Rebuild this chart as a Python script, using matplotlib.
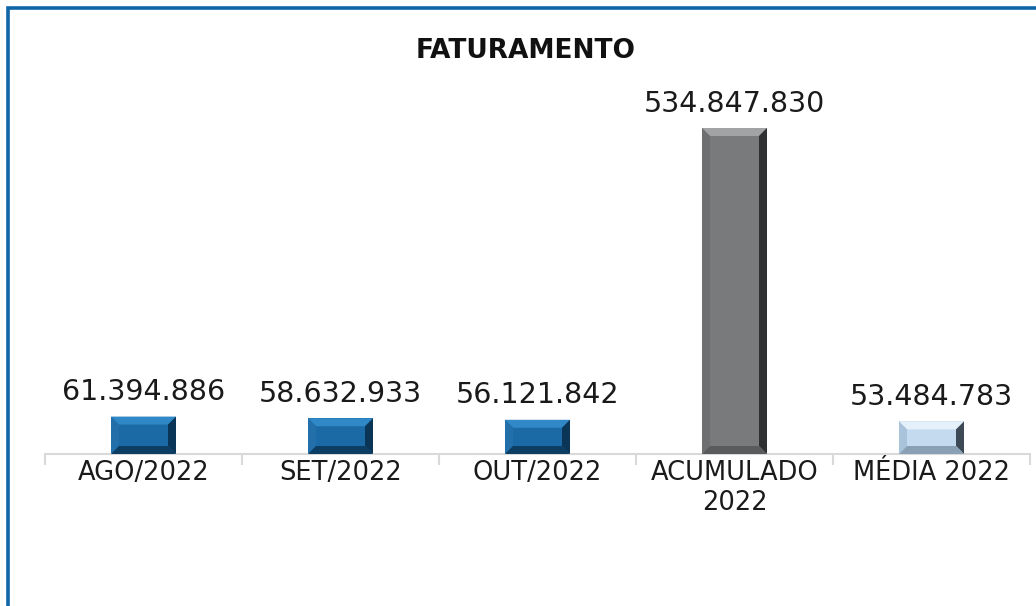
import matplotlib
matplotlib.use("Agg")
import matplotlib.pyplot as plt
from matplotlib.patches import Polygon, Rectangle
import numpy as np

categories = ["AGO/2022", "SET/2022", "OUT/2022", "ACUMULADO\n2022", "MÉDIA 2022"]
values = [61394886, 58632933, 56121842, 534847830, 53484783]
labels = ["61.394.886", "58.632.933", "56.121.842", "534.847.830", "53.484.783"]
title = "FATURAMENTO"

# face, top bevel, left bevel, right bevel, bottom bevel
palettes = [
    ("#1b6aa6", "#3088c6", "#226fa9", "#0b3556", "#0c3d63"),
    ("#1b6aa6", "#3088c6", "#226fa9", "#0b3556", "#0c3d63"),
    ("#1b6aa6", "#3088c6", "#226fa9", "#0b3556", "#0c3d63"),
    ("#797a7c", "#a2a3a5", "#6e6f71", "#2f3032", "#5a5b5d"),
    ("#c4daee", "#e4f0fa", "#a9c3da", "#3d4a55", "#8aa1b5"),
]

W, H, DPI = 1036, 606, 100
fig = plt.figure(figsize=(W / DPI, H / DPI), dpi=DPI)
fig.patch.set_facecolor("white")

left, right = 45, 1030
bottom_px, top_px = 454, 100
ax = fig.add_axes([left / W, (H - bottom_px) / H, (right - left) / W, (bottom_px - top_px) / H])
ax.set_xlim(-0.5, len(categories) - 0.5)
ymax = values[3] * (bottom_px - top_px) / (bottom_px - 128)
ax.set_ylim(0, ymax)

x = np.arange(len(categories))
bw = 0.33
bars = ax.bar(x, values, width=bw, color=[p[0] for p in palettes], zorder=2)

px_x = (right - left) / len(categories)
px_y = (bottom_px - top_px) / ymax
b = 8.0
for bar, pal in zip(bars, palettes):
    x0 = bar.get_x(); x1 = x0 + bar.get_width()
    y0 = 0; y1 = bar.get_height()
    dx = b / px_x; dy = b / px_y
    face, topc, leftc, rightc, botc = pal
    ax.add_patch(Polygon([(x0, y1), (x1, y1), (x1 - dx, y1 - dy), (x0 + dx, y1 - dy)], closed=True, color=topc, lw=0, zorder=3))
    ax.add_patch(Polygon([(x0, y0), (x0 + dx, y0 + dy), (x0 + dx, y1 - dy), (x0, y1)], closed=True, color=leftc, lw=0, zorder=3))
    ax.add_patch(Polygon([(x1, y0), (x1, y1), (x1 - dx, y1 - dy), (x1 - dx, y0 + dy)], closed=True, color=rightc, lw=0, zorder=3))
    ax.add_patch(Polygon([(x0, y0), (x1, y0), (x1 - dx, y0 + dy), (x0 + dx, y0 + dy)], closed=True, color=botc, lw=0, zorder=3))

for xi, v, lab in zip(x, values, labels):
    ax.annotate(lab, (xi, v), xytext=(0, 7.5), textcoords="offset points",
                ha="center", va="bottom", fontsize=20.5, color="#1a1a1a", family="DejaVu Sans")

for s in ["top", "right", "left"]:
    ax.spines[s].set_visible(False)
ax.spines["bottom"].set_color("#d9d9d9")
ax.spines["bottom"].set_linewidth(1.5)
ax.set_yticks([])
ax.set_xticks(x)
ax.set_xticklabels(categories, fontsize=18.5, color="#1a1a1a", linespacing=1.2)
ax.tick_params(axis="x", which="major", length=0, pad=4)
ax.set_xticks(np.arange(-0.5, len(categories)), minor=True)
ax.tick_params(axis="x", which="minor", length=8, width=1.5, color="#d9d9d9")
ax.patch.set_alpha(0)

fig.text(526 / W, 1 - 51 / H, title, ha="center", va="center", fontsize=19,
         fontweight="bold", color="#111111")

fig.patches.append(Rectangle((7.5 / W, -0.1), 1.2, 1 - 7.5 / H + 0.1, transform=fig.transFigure,
                             fill=False, edgecolor="#0f66a8", linewidth=2.6, zorder=10))

fig.savefig("out.png", dpi=DPI)
